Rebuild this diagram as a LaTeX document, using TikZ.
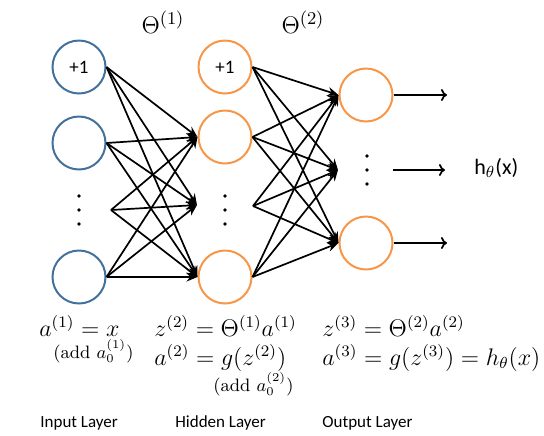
\documentclass[tikz,border=0pt]{standalone}
\usepackage{fontspec}
\newfontfamily\cali{Carlito}
\usetikzlibrary{arrows.meta}
\definecolor{nblue}{RGB}{65,113,156}
\definecolor{norange}{RGB}{247,150,70}
\begin{document}
\begin{tikzpicture}[x=0.5pt,y=-0.5pt,
 neuron/.style={circle,draw,line width=1pt,minimum size=26.5pt,inner sep=0pt,font=\cali\fontsize{9.5}{11}\selectfont},
 inn/.style={neuron,draw=nblue},
 hid/.style={neuron,draw=norange},
 conn/.style={line width=0.85pt,-{Stealth[length=5.5pt,width=4.5pt]}},
 outarr/.style={line width=0.85pt,-{To[length=3pt,width=6pt]}},
 eq/.style={anchor=base west,inner sep=0pt,font=\fontsize{12}{14}\selectfont},
 smalleq/.style={anchor=base west,inner sep=0pt,font=\fontsize{9}{11}\selectfont},
 lab/.style={anchor=base west,inner sep=0pt,font=\cali\fontsize{8.5}{10}\selectfont}]
\useasboundingbox (0,0) rectangle (544,435);
% input layer
\node[inn] (i1) at (79,67) {+1};
\node[inn] (i2) at (79,143) {};
\node[inn] (i3) at (79,277) {};
\coordinate (id) at (111,210);
% hidden layer
\node[hid] (h1) at (225,67) {+1};
\node[hid] (h2) at (225,137) {};
\node[hid] (h3) at (225,277) {};
\coordinate (hdin) at (197,205);
\coordinate (hdout) at (253,206);
% output layer
\node[hid] (o1) at (366,95) {};
\node[hid] (o3) at (366,243) {};
\coordinate (odin) at (338,170);
\coordinate (odout) at (393,170);
\coordinate (e1) at (447,95);
\coordinate (e2) at (445,170);
\coordinate (e3) at (447,243);
% dots
\foreach \y in {196,210,224} {\fill (79,\y) circle (0.9pt); \fill (225,\y) circle (0.9pt);}
\foreach \y in {156,170,184} {\fill (367,\y) circle (0.9pt);}
% connections input -> hidden
\foreach \s in {i1.east,i2.east,id,i3.east} {
  \foreach \t in {h2.west,hdin,h3.west} {\draw[conn] (\s) -- (\t);}
}
% hidden -> output
\foreach \s in {h1.east,h2.east,hdout,h3.east} {
  \foreach \t in {o1.west,odin,o3.west} {\draw[conn] (\s) -- (\t);}
}
\draw[outarr] (o1.east) -- (e1);
\draw[outarr] (odout) -- (e2);
\draw[outarr] (o3.east) -- (e3);
\node[anchor=west,inner sep=0pt,font=\cali\fontsize{11}{13}\selectfont] (hx) at (474,168) {h$_\theta$(x)};
% Theta labels
\node[font=\fontsize{12.5}{14}\selectfont] (t1) at (163,22) {$\Theta^{(1)}$};
\node[font=\fontsize{12.5}{14}\selectfont] (t2) at (303,22) {$\Theta^{(2)}$};
% equations
\node[eq] (a1) at (39,336) {$a^{(1)}=x$};
\node[smalleq] (ad1) at (53,358) {(add $a_0^{(1)}$)};
\node[eq] (z2) at (154,336) {$z^{(2)}=\Theta^{(1)}a^{(1)}$};
\node[eq] (a2) at (154,365) {$a^{(2)}=g(z^{(2)})$};
\node[smalleq] (ad2) at (213,391) {(add $a_0^{(2)}$)};
\node[eq] (z3) at (322,336) {$z^{(3)}=\Theta^{(2)}a^{(2)}$};
\node[eq] (a3) at (322,365) {$a^{(3)}=g(z^{(3)})=h_\theta(x)$};
% layer labels
\node[lab] (l1) at (40,427) {Input Layer};
\node[lab] (l2) at (175,427) {Hidden Layer};
\node[lab] (l3) at (322,427) {Output Layer};
\end{tikzpicture}
\end{document}
